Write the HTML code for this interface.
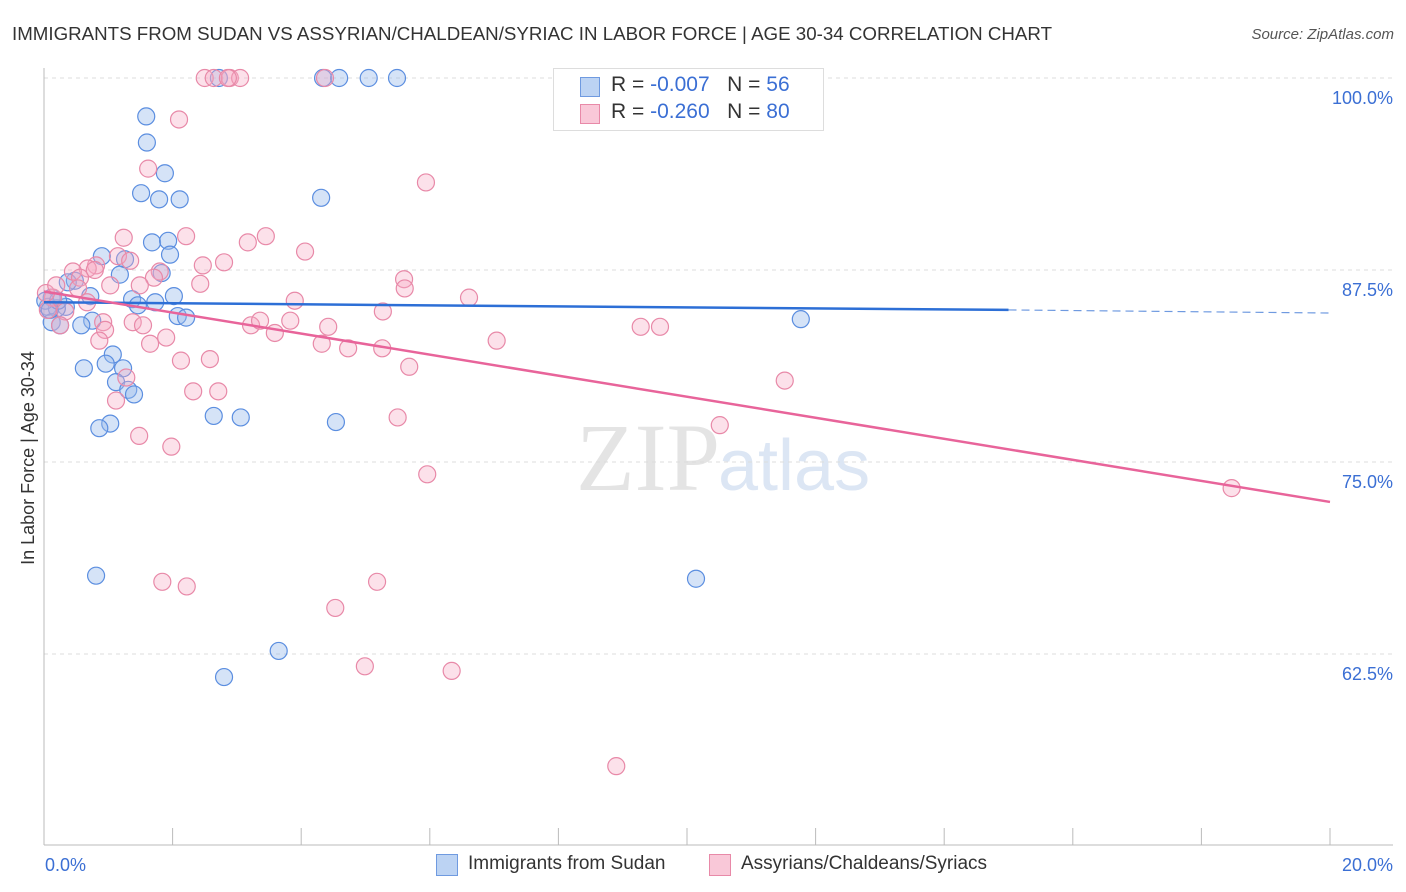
<!DOCTYPE html>
<html><head><meta charset="utf-8"><style>
body{margin:0;background:#fff;font-family:"Liberation Sans",sans-serif;}
#wrap{position:relative;width:1406px;height:892px;overflow:hidden;}
</style></head><body>
<div id="wrap">
<svg id="svg" width="1406" height="892" xmlns="http://www.w3.org/2000/svg">
<text x="12" y="40" font-size="18.7" fill="#333" textLength="1040" lengthAdjust="spacingAndGlyphs">IMMIGRANTS FROM SUDAN VS ASSYRIAN/CHALDEAN/SYRIAC IN LABOR FORCE | AGE 30-34 CORRELATION CHART</text>
<text x="1394" y="39" font-size="15" fill="#555" text-anchor="end" font-style="italic">Source: ZipAtlas.com</text>
<text x="720" y="490" font-size="96" fill="#e4e4e4" text-anchor="end" font-family="Liberation Serif">ZIP</text>
<text x="718" y="490" font-size="72" fill="#dce6f4">atlas</text>
<text transform="translate(34,458) rotate(-90)" font-size="18" fill="#333" text-anchor="middle">In Labor Force | Age 30-34</text>
<g id="grid"></g><g id="pts"></g><g id="lines"></g>
</svg>
<div style="position:absolute;left:553px;top:68px;width:269px;height:61px;border:1px solid #ddd;background:#fff;font-size:21px;">
<div style="position:absolute;left:26px;top:8px;width:18px;height:18px;background:#bcd3f3;border:1px solid #6f9ae0;"></div>
<div style="position:absolute;left:57px;top:4px;color:#333">R = <span style="color:#3b6fd4">-0.007</span>&nbsp;&nbsp;&nbsp;N = <span style="color:#3b6fd4">56</span></div>
<div style="position:absolute;left:26px;top:35px;width:18px;height:18px;background:#f9c8d8;border:1px solid #e889a8;"></div>
<div style="position:absolute;left:57px;top:31px;color:#333">R = <span style="color:#3b6fd4">-0.260</span>&nbsp;&nbsp;&nbsp;N = <span style="color:#3b6fd4">80</span></div>
</div>
<div style="position:absolute;left:436px;top:854px;width:20px;height:20px;background:#bcd3f3;border:1px solid #6f9ae0;"></div>
<div style="position:absolute;left:468px;top:853px;font-size:19px;color:#333">Immigrants from Sudan</div>
<div style="position:absolute;left:709px;top:854px;width:20px;height:20px;background:#f9c8d8;border:1px solid #e889a8;"></div>
<div style="position:absolute;left:741px;top:853px;font-size:19px;color:#333">Assyrians/Chaldeans/Syriacs</div>
</div>
<script>
const yTicks=[100,87.5,75,62.5];
const yTickLabels=["100.0%","87.5%","75.0%","62.5%"];
const xTickLabels=["0.0%","20.0%"];
const blueX=[4.34,4.59,5.05,5.49,2.72,1.59,1.60,1.88,1.51,1.79,2.11,4.31,1.68,1.93,1.96,0.90,1.26,1.18,1.83,0.48,0.37,0.72,2.02,0.12,1.37,1.73,1.46,0.06,0.34,0.20,2.08,2.21,11.77,0.75,0.12,0.25,0.58,1.07,0.96,0.62,1.23,1.12,1.31,1.40,2.64,3.06,1.03,0.86,4.54,0.81,10.14,3.65,2.80,0.02,0.09,0.22];
const blueY=[100,100,100,100,100,97.5,95.8,93.8,92.5,92.1,92.1,92.2,89.3,89.4,88.5,88.4,88.2,87.2,87.3,86.8,86.7,85.8,85.8,85.7,85.6,85.4,85.2,85.1,85.1,85.0,84.5,84.4,84.3,84.2,84.1,83.9,83.9,82.0,81.4,81.1,81.1,80.2,79.7,79.4,78.0,77.9,77.5,77.2,77.6,67.6,67.4,62.7,61.0,85.5,84.9,85.5];
const pinkX=[2.50,2.64,2.89,3.05,2.86,4.37,2.10,1.62,5.94,1.24,2.21,3.45,3.17,4.06,2.47,2.80,0.81,1.15,1.34,0.68,0.45,0.56,0.79,5.60,5.61,1.80,1.71,1.49,3.90,6.61,5.27,0.14,0.06,0.33,0.92,1.38,1.54,0.95,0.86,3.22,3.36,3.59,3.83,4.42,9.28,9.58,4.32,4.73,5.26,7.04,1.65,1.90,2.13,2.58,5.68,2.32,2.71,1.28,1.12,11.52,5.50,10.51,1.48,1.98,5.96,18.47,1.84,2.22,5.18,4.53,4.99,6.34,8.90,0.25,0.03,0.19,0.53,0.67,1.03,2.43];
const pinkY=[100,100,100,100,100,100,97.3,94.1,93.2,89.6,89.7,89.7,89.3,88.7,87.8,88.0,87.8,88.4,88.1,87.6,87.4,87.0,87.5,86.9,86.3,87.4,87.0,86.5,85.5,85.7,84.8,85.7,84.9,84.8,84.1,84.1,83.9,83.6,82.9,83.9,84.2,83.4,84.2,83.8,83.8,83.8,82.7,82.4,82.4,82.9,82.7,83.1,81.6,81.7,81.2,79.6,79.6,80.5,79.0,80.3,77.9,77.4,76.7,76.0,74.2,73.3,67.2,66.9,67.2,65.5,61.7,61.4,55.2,83.9,86.0,86.5,86.3,85.4,86.5,86.6];
const blueTrend=[85.4,84.9,84.7]; // at x=0, 15, 20
const pinkTrend=[86.1,72.4]; // at x=0, 20
const NS="http://www.w3.org/2000/svg";
const X=v=>44+v/20*1286;
const Y=v=>78+(100-v)/12.5*192;
function mk(tag,parent,attrs){const e=document.createElementNS(NS,tag);for(const k in attrs)e.setAttribute(k,attrs[k]);parent.appendChild(e);return e;}
const grid=document.getElementById('grid'),pts=document.getElementById('pts'),lines=document.getElementById('lines');
yTicks.forEach((t,i)=>{
 const l=mk('line',grid,{x1:44,x2:1393,y1:Y(t),y2:Y(t),stroke:'#ddd','stroke-dasharray':'4,4'});
 
 
 const tx=mk('text',grid,{x:1393,y:Y(t)+26,'font-size':18,fill:'#3b6fd4','text-anchor':'end'});
 tx.textContent=yTickLabels[i];
 
 
});
const ax=mk('line',grid,{x1:44,x2:1393,y1:845,y2:845,stroke:'#bbb'});


const ay=mk('line',grid,{x1:44,x2:44,y1:68,y2:845,stroke:'#bbb'});


for(let i=0;i<=10;i++){const t=mk('line',grid,{x1:X(i*2),x2:X(i*2),y1:828,y2:845,stroke:'#bbb'});
 
 }
const xl0=mk('text',grid,{x:45,y:871,'font-size':18,fill:'#3b6fd4'});xl0.textContent=xTickLabels[0];


const xl1=mk('text',grid,{x:1393,y:871,'font-size':18,fill:'#3b6fd4','text-anchor':'end'});xl1.textContent=xTickLabels[1];


blueX.forEach((v,i)=>{const c=mk('circle',pts,{cx:X(v),cy:Y(blueY[i]),r:8.5,fill:'rgba(150,185,235,0.4)',stroke:'#5b8ee0','stroke-width':1.2});
 
 });
pinkX.forEach((v,i)=>{const c=mk('circle',pts,{cx:X(v),cy:Y(pinkY[i]),r:8.5,fill:'rgba(245,170,195,0.35)',stroke:'#e889a8','stroke-width':1.2});
 
 });
const b1=mk('line',lines,{x1:X(0),y1:Y(blueTrend[0]),x2:X(15),y2:Y(blueTrend[1]),stroke:'#2d6fd6','stroke-width':2.5});


const b2=mk('line',lines,{x1:X(15),y1:Y(blueTrend[1]),x2:X(20),y2:Y(blueTrend[2]),stroke:'#6f9ae0','stroke-width':1.2,'stroke-dasharray':'8,5'});


const p1=mk('line',lines,{x1:X(0),y1:Y(pinkTrend[0]),x2:X(20),y2:Y(pinkTrend[1]),stroke:'#e8649a','stroke-width':2.5});


</script>
</body></html>
